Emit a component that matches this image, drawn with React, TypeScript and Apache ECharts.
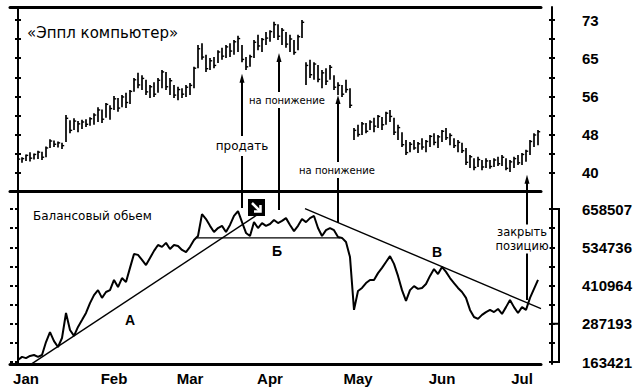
import React, { useEffect, useRef } from "react";
import * as echarts from "echarts";

// ---------- data ----------
const monthLabels = ["Jan", "Feb", "Mar", "Apr", "May", "Jun", "Jul"];
const monthStartIdx = [2, 24, 43, 63, 85, 106, 126];

const priceTicks = [40, 44.125, 48.25, 52.375, 56.5, 60.625, 64.75, 68.875, 73];
const priceLabelValues = [40, 48.25, 56.5, 64.75, 73];
const priceLabels = ["40", "48", "56", "65", "73"];

const obvTicks = [163421, 225307, 287193, 349079, 410964, 472850, 534736, 596622, 658507];
const obvLabelValues = [163421, 287193, 410964, 534736, 658507];
const obvLabels = ["163421", "287193", "410964", "534736", "658507"];

// daily bars: [high, low, close]
const priceBars = [
  [43.6, 42.4, 43.0], [43.4, 42.2, 43.1], [44.0, 42.6, 43.8], [44.5, 42.5, 43.2], [44.2, 42.9, 44.0],
  [44.8, 43.0, 44.5], [44.6, 42.8, 43.4], [45.7, 43.4, 45.4], [47.3, 45.4, 46.9], [47.0, 45.6, 46.2],
  [46.8, 45.5, 46.5], [46.5, 45.2, 45.9], [52.5, 46.7, 51.8], [51.4, 48.6, 49.2], [51.8, 49.3, 51.2],
  [51.2, 48.8, 50.6], [51.5, 49.5, 51.0], [51.6, 49.9, 50.5], [52.0, 50.2, 51.7], [52.9, 50.4, 52.5],
  [54.2, 51.0, 53.6], [53.7, 50.8, 51.6], [55.1, 51.9, 54.8], [54.6, 51.5, 53.9], [56.6, 53.6, 56.0],
  [56.2, 53.2, 54.0], [56.8, 54.2, 56.4], [57.3, 54.0, 55.2], [57.9, 54.9, 57.6], [60.5, 57.5, 60.1],
  [61.6, 58.3, 59.0], [61.1, 57.9, 60.4], [60.1, 56.8, 57.5], [59.0, 56.2, 58.6], [59.6, 56.4, 57.0],
  [60.5, 57.3, 60.0], [62.2, 58.3, 61.8], [61.8, 57.9, 58.6], [60.5, 56.8, 59.9], [59.0, 56.2, 56.8],
  [58.6, 55.7, 58.0], [58.3, 56.2, 57.0], [59.0, 56.4, 58.5], [59.4, 56.8, 58.9], [62.9, 58.3, 62.6],
  [67.6, 62.6, 66.8], [68.0, 64.4, 65.0], [65.5, 61.8, 62.5], [64.8, 62.2, 64.2], [65.0, 62.6, 63.2],
  [66.5, 63.7, 66.1], [67.0, 64.4, 65.2], [67.6, 64.8, 67.2], [68.0, 65.0, 66.3], [68.7, 65.5, 68.3],
  [69.6, 66.1, 69.0], [67.6, 63.9, 64.5], [65.0, 62.2, 62.9], [65.5, 62.9, 65.1], [68.7, 64.8, 68.2],
  [69.8, 66.5, 67.4], [69.1, 66.1, 68.8], [70.4, 67.6, 69.1], [70.8, 68.3, 70.5], [72.6, 69.1, 72.0],
  [72.1, 68.7, 69.5], [71.3, 67.6, 70.8], [70.4, 67.0, 67.8], [69.8, 66.1, 68.9], [68.7, 65.5, 66.0],
  [69.8, 66.5, 69.4], [73.0, 69.1, 72.5], [63.9, 59.0, 63.2], [64.4, 60.5, 61.2], [63.9, 60.1, 63.5],
  [63.3, 59.6, 60.2], [62.2, 58.3, 61.6], [62.6, 59.0, 59.8], [63.3, 60.1, 62.8], [61.1, 57.9, 58.5],
  [59.6, 56.8, 58.9], [59.0, 56.4, 57.0], [60.1, 57.3, 58.0], [58.3, 54.0, 54.6], [49.7, 47.1, 49.2],
  [50.4, 47.8, 48.3], [51.0, 48.2, 50.6], [50.8, 48.6, 49.0], [51.4, 49.3, 51.0], [51.9, 48.8, 50.1],
  [52.5, 49.7, 52.2], [52.1, 49.3, 50.4], [53.2, 50.4, 52.9], [53.6, 51.0, 52.2], [51.9, 48.2, 48.8],
  [50.4, 47.1, 49.8], [48.8, 45.6, 46.1], [47.1, 43.9, 44.4], [46.7, 44.5, 46.2], [47.1, 45.0, 45.4],
  [46.7, 44.3, 46.3], [47.5, 45.0, 45.6], [47.1, 44.5, 46.8], [48.2, 45.6, 47.9], [48.6, 46.0, 46.6],
  [48.2, 45.4, 47.8], [49.3, 46.7, 49.0], [49.7, 47.1, 47.6], [48.6, 46.0, 48.1], [47.5, 45.4, 45.9],
  [47.1, 44.5, 46.6], [46.5, 44.3, 44.8], [45.4, 41.7, 42.3], [43.9, 41.1, 43.5], [43.2, 40.6, 41.2],
  [43.5, 41.3, 42.9], [42.8, 40.6, 41.3], [43.2, 41.1, 42.6], [42.8, 40.9, 41.4], [43.2, 41.3, 42.8],
  [43.5, 41.5, 42.0], [43.9, 41.5, 43.4], [43.2, 40.6, 41.0], [42.8, 40.2, 42.4], [43.5, 41.1, 43.1],
  [43.9, 41.7, 42.2], [44.3, 41.7, 44.0], [45.0, 42.4, 44.7], [47.1, 43.9, 46.8], [48.6, 45.6, 48.2],
  [49.3, 46.0, 48.9],
];

// on-balance volume, thousands
const obvK = [
  170, 180, 176, 183, 186, 180, 186, 228, 260, 231,
  212, 241, 322, 267, 248, 277, 299, 322, 354, 380,
  396, 371, 390, 396, 429, 406, 435, 422, 468, 513,
  510, 494, 477, 500, 523, 542, 536, 549, 529, 542,
  539, 526, 519, 536, 558, 571, 642, 626, 604, 584,
  597, 604, 584, 607, 636, 652, 616, 581, 571, 616,
  597, 613, 604, 610, 623, 613, 620, 629, 607, 587,
  604, 626, 616, 629, 636, 597, 571, 590, 597, 590,
  568, 565, 552, 503, 332, 393, 403, 419, 429, 429,
  451, 468, 487, 506, 481, 442, 396, 361, 396, 409,
  400, 403, 416, 442, 464, 448, 471, 455, 435, 419,
  403, 390, 371, 332, 309, 303, 316, 325, 332, 325,
  335, 319, 341, 364, 341, 322, 341, 332, 371, 400,
  429,
];

// trend lines [day index, obv thousands]
const trendA = [[3.5, 158], [59.75, 639]];
const trendB = [[44.75, 565], [80.5, 565]];
const trendV = [[71.75, 660], [130.75, 336]];

// signal arrows: day index, price at arrow tip, obv (thousands) at tail
const arrowDays = [56, 65.25, 80, 127.25];
const arrowTipPrice = [61.4, 65.9, 56.8, 39.6];
const arrowTailObvK = [662, 655, 613, 364];

// ---------- layout ----------
const X_MIN = -2;
const X_MAX = 130.75;
const P_MIN = 36.117;
const P_MAX = 75.804;
const O_MIN = 156949;
const O_MAX = 716777;

const axisFont = '"Liberation Sans", Arial, sans-serif';
const dejavu = '"DejaVu Sans", sans-serif';

function nearestLabel(v: number, values: number[], labels: string[]) {
  let best = 0;
  for (let i = 1; i < values.length; i++) {
    if (Math.abs(values[i] - v) < Math.abs(values[best] - v)) best = i;
  }
  return labels[best];
}

function yAxisPair(grid: number, min: number, max: number, ticks: number[], side: "left" | "right",
  labelValues?: number[], labels?: string[]) {
  const base: any = {
    type: "value",
    gridIndex: grid,
    position: side,
    offset: side === "right" ? 11 : 0,
    min,
    max,
    splitLine: { show: false },
  };
  const outer = {
    ...base,
    axisLine: { show: true, lineStyle: { color: "#000", width: 2 } },
    axisTick: { show: true, inside: false, length: 3, customValues: ticks, lineStyle: { color: "#000", width: 2 } },
    axisLabel: labelValues
      ? {
          show: true,
          customValues: labelValues,
          formatter: (v: number) => nearestLabel(v, labelValues, labels as string[]),
          margin: 30,
          color: "#000",
          fontFamily: axisFont,
          fontWeight: "bold",
          fontSize: 15,
          padding: [0, 0, 10, 0],
        }
      : { show: false },
  };
  const inner = {
    ...base,
    axisLine: { show: false },
    axisTick: { show: true, inside: true, length: 3, customValues: ticks, lineStyle: { color: "#000", width: 2 } },
    axisLabel: { show: false },
  };
  return [outer, inner];
}

export default function App() {
  const ref = useRef<HTMLDivElement>(null);

  useEffect(() => {
    if (!ref.current) return;
    const chart = echarts.init(ref.current, undefined, { renderer: "svg" });

    const barData = priceBars.map((b, i) => [i, b[0], b[1], b[2]]);
    const obvData = obvK.map((v, i) => [i, v * 1000]);
    const toObv = (arr: number[][]) => arr.map((p) => [p[0], p[1] * 1000]);

    const yAxes = [
      ...yAxisPair(0, P_MIN, P_MAX, priceTicks, "left"),
      ...yAxisPair(0, P_MIN, P_MAX, priceTicks, "right", priceLabelValues, priceLabels),
      ...yAxisPair(1, O_MIN, O_MAX, obvTicks, "left"),
      ...yAxisPair(1, O_MIN, O_MAX, obvTicks, "right", obvLabelValues, obvLabels),
    ];

    const lineSeries = (data: number[][], width: number, z = 3) => ({
      type: "line",
      xAxisIndex: 2,
      yAxisIndex: 4,
      data,
      symbol: "none",
      silent: true,
      z,
      lineStyle: { color: "#000", width },
    });

    chart.setOption({
      animation: false,
      backgroundColor: "#fff",
      grid: [
        { left: 10, top: 7, width: 531, height: 184, containLabel: false, outerBoundsMode: "none" },
        { left: 10, top: 191, width: 531, height: 173, containLabel: false, outerBoundsMode: "none" },
      ],
      xAxis: [
        {
          type: "value", gridIndex: 0, min: X_MIN, max: X_MAX, position: "bottom",
          axisLine: { show: true, onZero: false, lineStyle: { color: "#000", width: 3 } },
          axisTick: { show: false }, axisLabel: { show: false }, splitLine: { show: false },
        },
        {
          type: "value", gridIndex: 0, min: X_MIN, max: X_MAX, position: "top",
          axisLine: { show: true, onZero: false, lineStyle: { color: "#000", width: 3 } },
          axisTick: { show: false }, axisLabel: { show: false }, splitLine: { show: false },
        },
        {
          type: "value", gridIndex: 1, min: X_MIN, max: X_MAX, position: "bottom",
          axisLine: { show: true, onZero: false, lineStyle: { color: "#000", width: 3 } },
          axisTick: { show: false },
          splitLine: { show: false },
          axisLabel: {
            show: true,
            customValues: monthStartIdx,
            formatter: (v: number) => nearestLabel(v, monthStartIdx, monthLabels),
            margin: 7,
            color: "#000",
            fontFamily: axisFont,
            fontWeight: "bold",
            fontSize: 15,
          },
        },
      ],
      yAxis: yAxes,
      series: [
        {
          type: "custom",
          xAxisIndex: 0,
          yAxisIndex: 0,
          data: barData,
          silent: true,
          encode: { x: 0, y: [1, 2, 3] },
          renderItem: (params: any, api: any) => {
            const x = api.value(0);
            const hi = api.coord([x, api.value(1)]);
            const lo = api.coord([x, api.value(2)]);
            const cl = api.coord([x, api.value(3)]);
            return {
              type: "group",
              children: [
                { type: "line", shape: { x1: hi[0], y1: hi[1], x2: lo[0], y2: lo[1] }, style: { stroke: "#000", lineWidth: 1.7 } },
                { type: "line", shape: { x1: cl[0], y1: cl[1], x2: cl[0] + 2.2, y2: cl[1] }, style: { stroke: "#000", lineWidth: 1.4 } },
              ],
            };
          },
        },
        lineSeries(obvData, 2, 4),
        lineSeries(toObv(trendA), 1.4),
        lineSeries(toObv(trendB), 1.4),
        lineSeries(toObv(trendV), 1.4),
      ],
    });

    const g0 = (x: number, y: number) => chart.convertToPixel({ xAxisIndex: 0, yAxisIndex: 0 } as any, [x, y]) as number[];
    const g1 = (x: number, y: number) => chart.convertToPixel({ xAxisIndex: 2, yAxisIndex: 4 } as any, [x, y]) as number[];

    const graphics: any[] = [];
    arrowDays.forEach((d, k) => {
      const tip = g0(d, arrowTipPrice[k]);
      const tail = g1(d, arrowTailObvK[k] * 1000);
      graphics.push({
        type: "line", z: 10,
        shape: { x1: tip[0], y1: tip[1] + 5, x2: tail[0], y2: tail[1] },
        style: { stroke: "#000", lineWidth: 2 },
      });
      graphics.push({
        type: "polygon", z: 10,
        shape: { points: [[tip[0] - 2.5, tip[1] + 9], [tip[0], tip[1]], [tip[0] + 2.5, tip[1] + 9]] },
        style: { fill: "#000" },
      });
    });

    // bracket beside lower right axis
    const bTop = g1(X_MAX, obvLabelValues[4]);
    const bMid = g1(X_MAX, obvLabelValues[1]);
    const bBot = g1(X_MAX, obvLabelValues[0]);
    const bx = bTop[0] + 18;
    graphics.push({
      type: "polyline", z: 10,
      shape: { points: [[bTop[0] + 12, bTop[1]], [bx, bTop[1]], [bx, bBot[1]], [bTop[0] + 12, bBot[1]]] },
      style: { stroke: "#000", lineWidth: 2, fill: null },
    });
    graphics.push({
      type: "line", z: 10,
      shape: { x1: bTop[0] + 12, y1: bMid[1], x2: bx, y2: bMid[1] },
      style: { stroke: "#000", lineWidth: 2 },
    });

    const txt = (text: string, x: number, y: number, opts: any = {}) => ({
      type: "text", z: 20, x, y,
      style: {
        text, fill: "#000", fontSize: 12, fontFamily: dejavu,
        align: "center", verticalAlign: "middle",
        ...opts,
      },
    });

    graphics.push(txt("«Эппл компьютер»", 27, 33, { align: "left", fontSize: 15 }));
    graphics.push(txt("Балансовый обьем", 33, 216, { align: "left", fontSize: 12 }));
    graphics.push(txt("продать", 242, 146, { backgroundColor: "#fff", padding: [4, 1], fontSize: 12 }));
    graphics.push(txt("на понижение", 287, 100, { backgroundColor: "#fff", padding: [3, 1], fontSize: 10 }));
    graphics.push(txt("на понижение", 337, 170, { backgroundColor: "#fff", padding: [3, 1], fontSize: 10 }));
    graphics.push(txt("закрыть", 522, 232, { backgroundColor: "#fff", padding: [2, 1, 1, 1], fontSize: 11.5 }));
    graphics.push(txt("позицию", 522, 246, { backgroundColor: "#fff", padding: [1, 1, 2, 1], fontSize: 11.5 }));
    graphics.push(txt("А", 130, 320, { fontSize: 14, fontWeight: "bold", fontFamily: axisFont }));
    graphics.push(txt("Б", 277, 251, { fontSize: 14, fontWeight: "bold", fontFamily: axisFont }));
    graphics.push(txt("В", 437, 252, { fontSize: 14, fontWeight: "bold", fontFamily: axisFont }));

    // sell-signal icon
    graphics.push({ type: "rect", z: 20, shape: { x: 248, y: 199, width: 17, height: 17 }, style: { fill: "#000" } });
    graphics.push({ type: "line", z: 21, shape: { x1: 252, y1: 203, x2: 260, y2: 211 }, style: { stroke: "#fff", lineWidth: 2.5 } });
    graphics.push({
      type: "polyline", z: 21,
      shape: { points: [[254, 211.5], [260.5, 211.5], [260.5, 205]] },
      style: { stroke: "#fff", lineWidth: 2.5, fill: null },
    });

    chart.setOption({ graphic: graphics });

    return () => chart.dispose();
  }, []);

  return (
    <div
      ref={ref}
      style={{ position: "absolute", left: 0, top: 0, width: 635, height: 390, background: "#fff" }}
    />
  );
}
